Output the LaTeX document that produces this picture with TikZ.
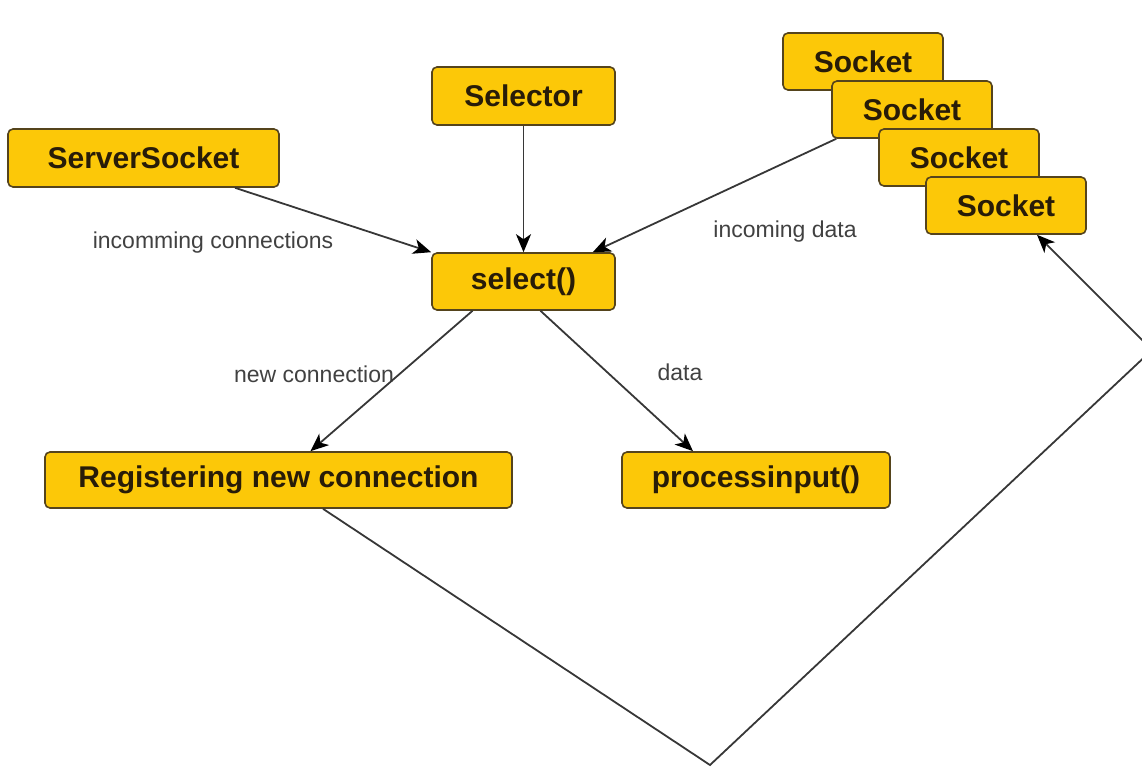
\documentclass[tikz,border=0pt]{standalone}
\usepackage{fontspec}
\setmainfont{Liberation Sans}
\usetikzlibrary{arrows.meta}
\definecolor{boxfill}{RGB}{252,200,8}
\definecolor{boxline}{RGB}{85,68,28}
\definecolor{boxtext}{RGB}{40,28,8}
\definecolor{conn}{RGB}{55,55,55}
\definecolor{lbl}{RGB}{65,65,65}
\tikzset{
  box/.style={draw=boxline, line width=1.6pt, fill=boxfill, rounded corners=5pt,
    text=boxtext, font=\fontsize{30}{32}\selectfont\bfseries,
    inner sep=0pt, anchor=center},
  conn/.style={draw=conn, line width=1.8pt},
  arr/.style={conn, -{Stealth[length=18pt,width=15pt,inset=5pt,black]}},
  lab/.style={text=lbl, font=\fontsize{23}{25}\selectfont, inner sep=0pt, anchor=base}
}
\begin{document}
\begin{tikzpicture}[x=1pt,y=-1pt]
\useasboundingbox (0,0) rectangle (1142,767);
\clip (0,0) rectangle (1142,767);
% boxes
\node[box, minimum width=271pt, minimum height=58pt] (ss) at (143.5,158) {ServerSocket};
\node[box, minimum width=183pt, minimum height=58pt] (selector) at (523.5,96) {Selector};
\node[box, minimum width=183pt, minimum height=57pt] (sel) at (523.5,281.5) {select()};
\node[box, minimum width=160pt, minimum height=57pt] (s1) at (863,61.5) {Socket};
\node[box, minimum width=160pt, minimum height=57pt] (s2) at (912,109.5) {Socket};
\node[box, minimum width=160pt, minimum height=57pt] (s3) at (959,157.5) {Socket};
\node[box, minimum width=160pt, minimum height=57pt] (s4) at (1006,205.5) {Socket};
\node[box, minimum width=467pt, minimum height=56pt] (reg) at (278.5,480) {Registering new connection};
\node[box, minimum width=268pt, minimum height=56pt] (proc) at (756,480) {processinput()};
% labels
\node[lab] (l1) at (213,248) {incomming connections};
\node[lab] (l2) at (785,237) {incoming data};
\node[lab] (l3) at (314,382) {new connection};
\node[lab] (l4) at (680,380) {data};
% connectors
\draw[arr] ([xshift=91.5pt]ss.south) -- (sel.north west);
\draw[arr] (selector.south) -- (sel.north);
\draw[arr] ([xshift=5pt]s2.south west) -- ([xshift=-23pt]sel.north east);
\draw[arr] ([xshift=-51pt]sel.south) -- ([xshift=32pt]reg.north);
\draw[arr] ([xshift=17pt]sel.south) -- ([xshift=-63pt]proc.north);
\coordinate (bottom) at (710,765);
\coordinate (rightturn) at (1152,350);
\draw[arr] ([xshift=44.5pt]reg.south) -- (bottom) -- (rightturn) -- ([xshift=31pt]s4.south);
\end{tikzpicture}
\end{document}
